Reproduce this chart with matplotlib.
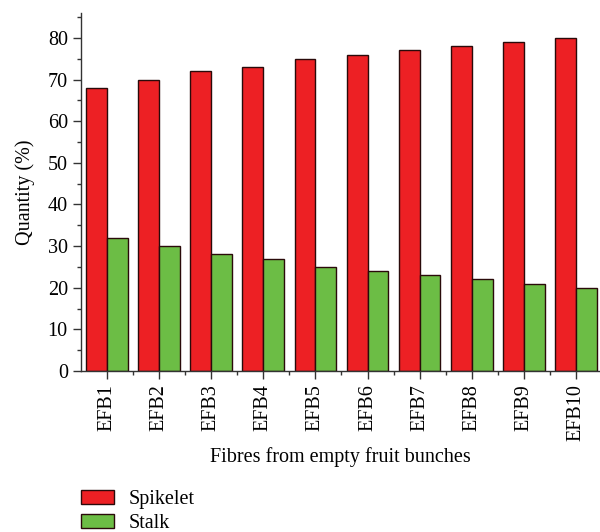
import numpy as np
import matplotlib.pyplot as plt
from matplotlib.patches import Patch
from matplotlib.ticker import MultipleLocator

# --- data ---
categories = ["EFB1", "EFB2", "EFB3", "EFB4", "EFB5",
              "EFB6", "EFB7", "EFB8", "EFB9", "EFB10"]
spikelet = [68, 70, 72, 73, 75, 76, 77, 78, 79, 80]
stalk = [32, 30, 28, 27, 25, 24, 23, 22, 21, 20]

RED = "#ED2024"
GREEN = "#6CBD45"
EDGE = "#2a0a0a"

plt.rcParams['font.family'] = ['Liberation Serif', 'DejaVu Serif']

fig = plt.figure(figsize=(6.0, 5.32), dpi=100)
ax = fig.add_axes([0.135, 0.3026, 0.863, 0.673])

x = np.arange(len(categories))
w = 0.4
ax.bar(x - w / 2, spikelet, width=w, color=RED, edgecolor=EDGE, linewidth=1.0)
ax.bar(x + w / 2, stalk, width=w, color=GREEN, edgecolor=EDGE, linewidth=1.0)

ax.set_xlim(-0.5, 9.44)
ax.set_ylim(0, 86)

ax.spines['top'].set_visible(False)
ax.spines['right'].set_visible(False)
for s in ('left', 'bottom'):
    ax.spines[s].set_linewidth(1.0)
    ax.spines[s].set_color("#333333")

ax.yaxis.set_major_locator(MultipleLocator(10))
ax.yaxis.set_minor_locator(MultipleLocator(5))
ax.set_xticks(x)
ax.set_xticklabels(categories, rotation=90)
ax.set_xticks(x[:-1] + 0.5, minor=True)

ax.tick_params(axis='both', which='major', direction='out', length=6,
               width=1.0, labelsize=14.5, color="#333333")
ax.tick_params(axis='both', which='minor', direction='out', length=3,
               width=1.0, color="#333333")

ax.set_ylabel("Quantity (%)", fontsize=14.5, labelpad=9)
ax.set_xlabel("Fibres from empty fruit bunches", fontsize=14.5, labelpad=4)

handles = [Patch(facecolor=RED, edgecolor=EDGE, label="Spikelet"),
           Patch(facecolor=GREEN, edgecolor=EDGE, label="Stalk")]
fig.legend(handles=handles, loc='upper left', bbox_to_anchor=(0.122, 0.095),
           frameon=False, fontsize=14.5, handlelength=1.65, handleheight=0.7,
           labelspacing=0.25, handletextpad=0.7, borderaxespad=0)

plt.savefig("out.png", dpi=100)
